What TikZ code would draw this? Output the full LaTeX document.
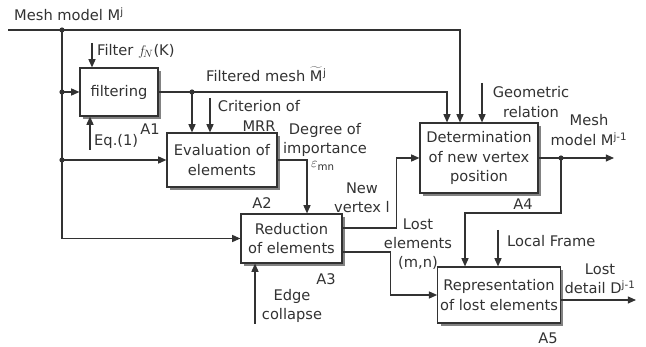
\documentclass[tikz,border=0pt]{standalone}
\usepackage{fontspec}
\setmainfont{DejaVu Sans}
\usetikzlibrary{arrows.meta,calc,shadows}
\definecolor{InkGray}{RGB}{50,50,50}
\definecolor{ShadowGray}{RGB}{130,130,130}

\begin{document}
\begin{tikzpicture}[
  x=0.03cm,y=-0.03cm,
  every node/.style={font=\fontsize{12.5}{16.5}\selectfont,text=InkGray},
  func/.style={draw=InkGray,fill=white,line width=1pt,align=center,
               inner sep=2pt,
               drop shadow={shadow xshift=2.4pt,shadow yshift=-2.4pt,
                            fill=ShadowGray,opacity=1}},
  flow/.style={draw=InkGray,line width=1pt,
               -{Triangle[length=7pt,width=6pt]}},
  tag/.style={align=center,inner sep=0pt},
]
\useasboundingbox (0,0) rectangle (646,347);
% A1 --- filtering
\node[func,minimum width=2.34cm,minimum height=1.44cm] (filt) at (119,92) {filtering};
\node[tag] (a1) at (150,129) {A1};
% A2 --- evaluation
\node[func,minimum width=3.3cm,minimum height=1.62cm] (eval) at (222,160) {Evaluation of\\elements};
\node[tag] (a2) at (262,203) {A2};
% A3 --- reduction
\node[func,minimum width=3.03cm,minimum height=1.47cm] (red) at (291.5,238.5) {Reduction\\of elements};
\node[tag] (a3) at (326,279) {A3};
% A4 --- new vertex
\node[func,minimum width=3.54cm,minimum height=2.1cm] (detm) at (479,158) {Determination\\of new vertex\\position};
\node[tag] (a4) at (523,204) {A4};
% A5 --- lost elements
\node[func,minimum width=3.66cm,minimum height=1.68cm] (repr) at (499,295) {Representation\\of lost elements};
\node[tag] (a5) at (548,338) {A5};

% free ends
\coordinate (mj) at (8,30);
\coordinate (dj) at (62,30);
\coordinate (fk) at (92,43);
\coordinate (eq) at (90,150);
\coordinate (fm) at (192,92);
\coordinate (mrr) at (210,98);
\coordinate (ec) at (255,324);
\coordinate (geo) at (482,83);
\coordinate (dm) at (561,158);
\coordinate (mout) at (614,158);
\coordinate (lf) at (498,230);
\coordinate (dout) at (636,300);

% mesh model M^j
\draw[flow] (mj) -| ($(detm.north)+(-19,0)$);
\draw[flow] (dj) |- (red.west);
\draw[flow] (dj |- filt.west) -- (filt.west);
\draw[flow] (dj |- eval.west) -- (eval.west);
\node[tag,anchor=west] (mjlbl) at (14,14) {Mesh model M\textsuperscript{j}};

% controls of A1
\draw[flow] (fk) -- (fk |- filt.north);
\node[tag,anchor=west] (fklbl) at (97,51) {Filter $f_{\!N}$(K)};
\draw[flow] (eq) -- (eq |- filt.south);
\node[tag,anchor=west] (eqlbl) at (94,141) {Eq.(1)};

% filtered mesh
\draw[flow] (filt.east) -| ($(detm.north)+(-32,0)$);
\draw[flow] (fm) -- (fm |- eval.north);
\node[tag,anchor=west] (fmlbl) at (206,74) {Filtered mesh $\widetilde{\mbox{M}}$\kern0.5pt\textsuperscript{j}};
\draw[flow] (mrr) -- (mrr |- eval.north);
\node[tag] (mrrlbl) at (259,116) {Criterion of\\MRR};

% degree of importance
\draw[flow] (eval.east) -| ($(red.north)+(15.5,0)$);
\node[tag] (deglbl) at (325,140) {Degree of\\importance};
\node[tag,anchor=west] (epslbl) at (311,166) {$\varepsilon$\textsubscript{mn}};

% outputs of A3
\draw[flow] ($(red.east)+(0,-10.5)$) -- ++(54,0) |- (detm.west);
\node[tag] (nvlbl) at (362,198) {New\\vertex l};
\draw[flow] ($(red.east)+(0,13.5)$) -- ++(48,0) |- (repr.west);
\node[tag] (lelbl) at (418,244) {Lost\\elements\\(m,n)};
\draw[flow] (ec) -- (ec |- red.south);
\node[tag] (eclbl) at (292,306) {Edge\\collapse};

% A4 in and out
\draw[flow] (geo) -- (geo |- detm.north);
\node[tag] (geolbl) at (531,102) {Geometric\\relation};
\draw[flow] (detm.east) -- (mout);
\draw[flow] (dm) -- ++(0,55) -| ($(repr.north)+(-34,0)$);
\node[tag] (moutlbl) at (589,130) {Mesh\\model M\textsuperscript{j-1}};

% A5 in and out
\draw[flow] (lf) -- (lf |- repr.north);
\node[tag,anchor=west] (lflbl) at (507,241) {Local Frame};
\draw[flow] (repr.east |- dout) -- (dout);
\node[tag] (doutlbl) at (600,279) {Lost\\detail D\textsuperscript{j-1}};

% junctions
\foreach \p in {dj,fm,dm}
  \fill[InkGray] (\p) circle (2.2pt);
\fill[InkGray] (dj |- filt.west) circle (2.2pt);
\fill[InkGray] (dj |- eval.west) circle (2.2pt);
\end{tikzpicture}
\end{document}
